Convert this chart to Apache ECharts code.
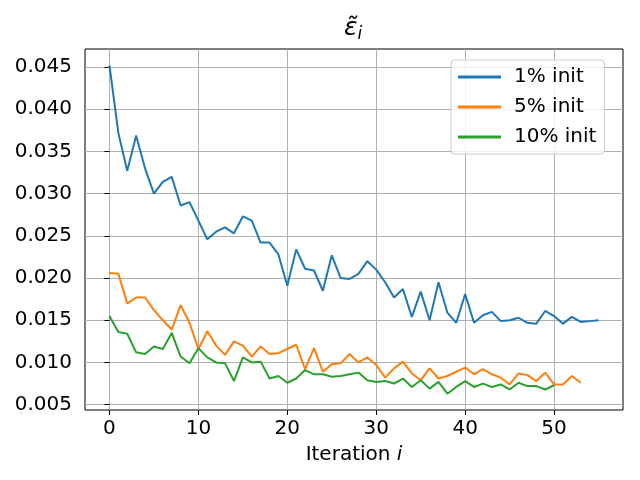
<!DOCTYPE html>
<html>
<head>
<meta charset="utf-8">
<script src="https://cdn.jsdelivr.net/npm/echarts@6/dist/echarts.min.js"></script>
<style>
html, body { margin: 0; padding: 0; background: #fff; }
#main { width: 640px; height: 480px; }
</style>
</head>
<body>
<div id="main"></div>
<script>
var seriesNames = ['1% init', '5% init', '10% init'];
var xTicks = [0, 10, 20, 30, 40, 50];
var yTicks = [0.005, 0.010, 0.015, 0.020, 0.025, 0.030, 0.035, 0.040, 0.045];

var init1 = [
    0.0452, 0.0372, 0.0327, 0.0369, 0.0330, 0.0300, 0.0314, 0.0320, 0.0286, 0.0290,
    0.0268, 0.0246, 0.0255, 0.0260, 0.0253, 0.0273, 0.0268, 0.0242, 0.0242, 0.0228,
    0.0191, 0.0234, 0.0211, 0.0209, 0.0185, 0.0227, 0.0200, 0.0199, 0.0205, 0.0220,
    0.0210, 0.0195, 0.0177, 0.0187, 0.0154, 0.0184, 0.0150, 0.0195, 0.0159, 0.0147,
    0.0181, 0.0147, 0.0156, 0.0160, 0.0149, 0.0150, 0.0153, 0.0147, 0.0146, 0.0161,
    0.0155, 0.0146, 0.0154, 0.0148, 0.0149, 0.0150
];
var init5 = [
    0.0206, 0.0205, 0.0170, 0.0177, 0.0177, 0.0162, 0.0150, 0.0139, 0.0168, 0.0147,
    0.0116, 0.0137, 0.0120, 0.0109, 0.0125, 0.0120, 0.0107, 0.0119, 0.0110, 0.0111,
    0.0116, 0.0121, 0.0092, 0.0117, 0.0089, 0.0098, 0.0099, 0.0110, 0.0100, 0.0106,
    0.0097, 0.0082, 0.0093, 0.0101, 0.0087, 0.0079, 0.0093, 0.0081, 0.0084, 0.0089,
    0.0094, 0.0086, 0.0092, 0.0086, 0.0082, 0.0074, 0.0087, 0.0085, 0.0078, 0.0088,
    0.0074, 0.0074, 0.0084, 0.0076
];
var init10 = [
    0.0155, 0.0136, 0.0134, 0.0112, 0.0110, 0.0119, 0.0116, 0.0135, 0.0107, 0.0099,
    0.0117, 0.0106, 0.0100, 0.0099, 0.0078, 0.0106, 0.0100, 0.0101, 0.0081, 0.0084,
    0.0076, 0.0081, 0.0091, 0.0086, 0.0086, 0.0083, 0.0084, 0.0086, 0.0088, 0.0079,
    0.0077, 0.0078, 0.0075, 0.0081, 0.0071, 0.0079, 0.0069, 0.0077, 0.0063, 0.0071,
    0.0078, 0.0071, 0.0075, 0.0071, 0.0074, 0.0068, 0.0076, 0.0072, 0.0072, 0.0068,
    0.0073
];

function toPoints(arr) {
    return arr.map(function (v, i) { return [i, v]; });
}

var myChart = echarts.init(document.getElementById('main'));
var font = 'DejaVu Sans';
var gridColor = '#b0b0b0';

var option = {
    backgroundColor: '#fff',
    color: ['#1f77b4', '#ff7f0e', '#2ca02c'],
    animation: false,
    title: {
        text: '{e|ε\u0303}{s|i}',
        left: 353,
        top: 14,
        padding: 0,
        textAlign: 'center',
        textStyle: {
            fontWeight: 'normal',
            rich: {
                e: { fontFamily: font, fontStyle: 'italic', fontWeight: 'normal', fontSize: 25, color: '#000' },
                s: { fontFamily: font, fontStyle: 'italic', fontWeight: 'normal', fontSize: 17, color: '#000', padding: [12, 0, 0, 0] }
            }
        }
    },
    legend: {
        orient: 'vertical',
        left: 451,
        top: 60,
        padding: [7, 8, 7, 7],
        itemGap: 10,
        itemWidth: 43,
        itemHeight: 3,
        icon: 'rect',
        backgroundColor: 'rgba(255,255,255,0.8)',
        borderColor: '#cccccc',
        borderWidth: 1,
        borderRadius: 4,
        textStyle: {
            fontFamily: font,
            fontSize: 20,
            color: '#000',
            padding: [0, 0, 0, 8],
            lineHeight: 20
        },
        data: seriesNames
    },
    grid: {
        left: 85,
        right: 17,
        top: 49,
        bottom: 70,
        show: true,
        borderColor: '#000',
        borderWidth: 1,
        containLabel: false
    },
    xAxis: {
        type: 'value',
        min: -2.75,
        max: 57.75,
        name: 'Iteration {i|i}',
        nameLocation: 'middle',
        nameGap: 35,
        nameTextStyle: {
            fontFamily: font,
            fontSize: 20,
            color: '#000',
            rich: {
                i: { fontFamily: font, fontStyle: 'italic', fontSize: 20, color: '#000' }
            }
        },
        axisLine: { show: false },
        axisTick: { show: true, length: 5, customValues: xTicks, lineStyle: { color: '#000', width: 1 } },
        axisLabel: {
            customValues: xTicks,
            margin: 9,
            fontFamily: font,
            fontSize: 20,
            color: '#000'
        },
        splitLine: { show: true, lineStyle: { color: gridColor, width: 1 } }
    },
    yAxis: {
        type: 'value',
        min: 0.00437,
        max: 0.04714,
        axisLine: { show: false },
        axisTick: { show: true, length: 5, customValues: yTicks, lineStyle: { color: '#000', width: 1 } },
        axisLabel: {
            customValues: yTicks,
            margin: 13,
            fontFamily: font,
            fontSize: 20,
            color: '#000',
            formatter: function (v) { return v.toFixed(3); }
        },
        splitLine: { show: true, lineStyle: { color: gridColor, width: 1 } }
    },
    series: [{
        name: seriesNames[0],
        type: 'line',
        data: toPoints(init1),
        showSymbol: false,
        lineStyle: { width: 2 }
    }, {
        name: seriesNames[1],
        type: 'line',
        data: toPoints(init5),
        showSymbol: false,
        lineStyle: { width: 2 }
    }, {
        name: seriesNames[2],
        type: 'line',
        data: toPoints(init10),
        showSymbol: false,
        lineStyle: { width: 2 }
    }]
};

myChart.setOption(option);
</script>
</body>
</html>
